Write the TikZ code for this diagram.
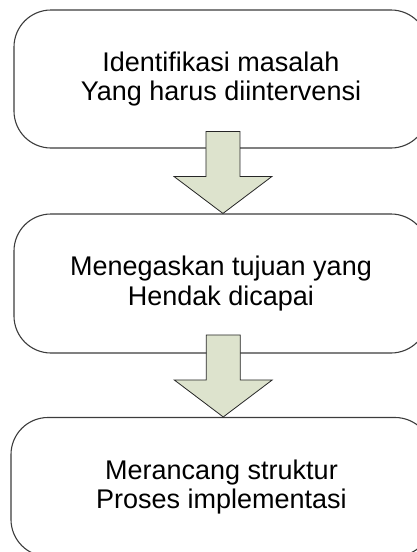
\documentclass[tikz,border=0pt]{standalone}
\usepackage{fontspec}
\setmainfont{Liberation Sans}
\usetikzlibrary{calc}
\definecolor{boxline}{RGB}{60,60,60}
\definecolor{arrowfill}{RGB}{221,227,205}
\tikzset{
  stagebox/.style={draw=boxline, line width=1.1pt, rounded corners=37pt,
    inner sep=0pt, align=center, text=black,
    font=\fontsize{27}{29.5}\selectfont},
  blockarrow/.style={draw=black!85, line width=0.8pt, fill=arrowfill, line join=miter}
}
\begin{document}
\begin{tikzpicture}[x=1pt, y=-1pt]
  \useasboundingbox (0,0) rectangle (417,552);
  % the three stages; their right sides run past the page edge
  \node[stagebox, minimum width=414pt, minimum height=138pt] (b1) at (221,79)
    {Identifikasi masalah\\Yang harus diintervensi};
  \node[stagebox, minimum width=414pt, minimum height=139pt] (b2) at (221,283.5)
    {Menegaskan tujuan yang\\Hendak dicapai};
  \node[stagebox, minimum width=421pt, minimum height=139pt] (b3) at (221.5,487)
    {Merancang struktur\\Proses implementasi};
  % tips of the block arrows on the top edge of the next stage
  \coordinate (t1) at ($(b2.north west)+(209.5,0)$);
  \coordinate (t2) at ($(b3.north west)+(212.8,0)$);
  % block arrows between the stages
  \foreach \t in {t1,t2}{
    \draw[blockarrow] (\t) -- ++(-49,-37) -- ++(32,0) -- ++(0,-45)
      -- ++(34,0) -- ++(0,45) -- ++(32,0) -- cycle;
  }
\end{tikzpicture}
\end{document}
